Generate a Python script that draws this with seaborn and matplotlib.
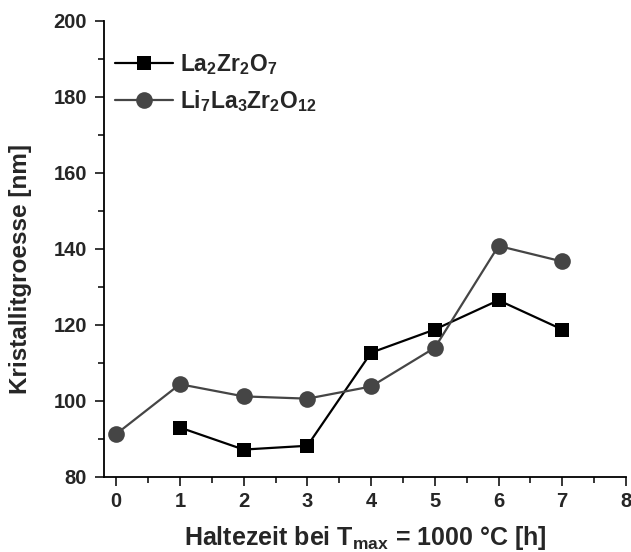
import matplotlib
matplotlib.use("Agg")
import matplotlib.pyplot as plt
import seaborn as sns
import pandas as pd
from matplotlib.ticker import MultipleLocator

sns.set_style("ticks")
plt.rcParams['font.family'] = ['Liberation Sans', 'DejaVu Sans']
plt.rcParams['mathtext.fontset'] = 'custom'
plt.rcParams['mathtext.rm'] = 'Liberation Sans'
plt.rcParams['mathtext.bf'] = 'Liberation Sans:bold'
plt.rcParams['mathtext.default'] = 'bf'

series_a_name = r'La$_2$Zr$_2$O$_7$'
series_a_x = [1, 2, 3, 4, 5, 6, 7]
series_a_y = [93.0, 87.2, 88.2, 112.7, 118.8, 126.5, 118.8]

series_b_name = r'Li$_7$La$_3$Zr$_2$O$_{12}$'
series_b_x = [0, 1, 2, 3, 4, 5, 6, 7]
series_b_y = [91.3, 104.4, 101.2, 100.6, 103.8, 114.0, 140.8, 136.7]

x_ticks = [0, 1, 2, 3, 4, 5, 6, 7, 8]
y_ticks = [80, 100, 120, 140, 160, 180, 200]

df_a = pd.DataFrame({'x': series_a_x, 'y': series_a_y})
df_b = pd.DataFrame({'x': series_b_x, 'y': series_b_y})

fig = plt.figure(figsize=(6.31, 5.52), dpi=100)
ax = fig.add_axes([0.165, 0.136, 0.827, 0.826])

sns.lineplot(data=df_a, x='x', y='y', marker='s', color='#000000',
             markersize=10.5, linewidth=1.6, markeredgewidth=0,
             label=series_a_name, ax=ax)
sns.lineplot(data=df_b, x='x', y='y', marker='o', color='#454545',
             markersize=12, linewidth=1.6, markeredgewidth=0,
             label=series_b_name, ax=ax)

ax.set_xlim(-0.19, 8.0)
ax.set_ylim(80, 200)
ax.set_xticks(x_ticks)
ax.set_yticks(y_ticks)
ax.xaxis.set_minor_locator(MultipleLocator(0.5))
ax.yaxis.set_minor_locator(MultipleLocator(10))
ax.tick_params(which='major', direction='out', length=6.5, width=1.3, labelsize=14.5)
ax.tick_params(axis='y', which='major', pad=6)
ax.tick_params(axis='x', which='major', pad=4)
ax.tick_params(which='minor', direction='out', length=4, width=1.3)
for lab in ax.get_xticklabels() + ax.get_yticklabels():
    lab.set_fontweight('bold')
for s in ['top', 'right']:
    ax.spines[s].set_visible(False)
for s in ['left', 'bottom']:
    ax.spines[s].set_linewidth(1.3)
    ax.spines[s].set_color('black')

ax.set_xlabel(r'Haltezeit bei T$_{\mathbf{max}}$ = 1000 °C [h]', fontsize=18, fontweight='bold', labelpad=10)
ax.set_ylabel('Kristallitgroesse [nm]', fontsize=17.5, fontweight='bold')
ax.yaxis.set_label_coords(-0.138, 0.455)

leg = ax.legend(loc='upper left', bbox_to_anchor=(-0.018, 0.977), frameon=False,
                prop={'weight': 'bold', 'size': 16.5},
                handlelength=2.5, labelspacing=0.5, handletextpad=0.3)

fig.savefig('out.png', dpi=100)
